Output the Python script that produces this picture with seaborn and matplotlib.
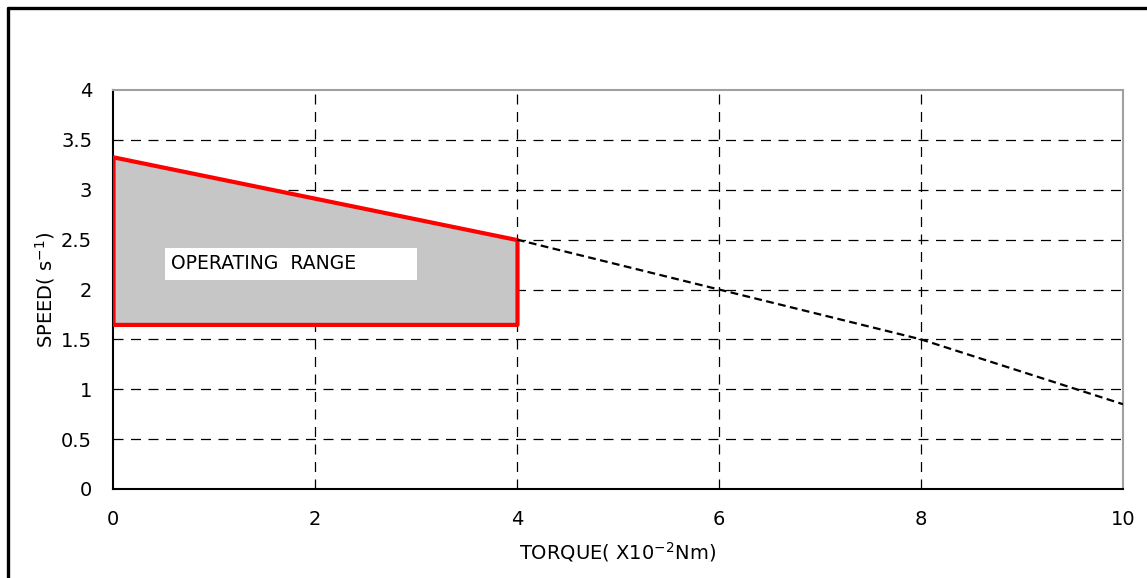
import numpy as np
import matplotlib
matplotlib.use('Agg')
import matplotlib.pyplot as plt
import seaborn as sns
from matplotlib.lines import Line2D
from matplotlib.patches import Rectangle
from matplotlib.ticker import FuncFormatter

# operating range (torque x10^-2 Nm, speed s^-1)
range_torque = [0, 4]
range_speed_top = [3.33, 2.5]
range_speed_bottom = 1.65

# extension of the speed-torque curve beyond the operating range
ext_torque = [4, 6, 8, 10]
ext_speed = [2.5, 2.0, 1.5, 0.85]

x_ticks = [0, 2, 4, 6, 8, 10]
y_ticks = [0, 0.5, 1, 1.5, 2, 2.5, 3, 3.5, 4]

sns.set_style('white')
plt.rcParams['font.family'] = ['DejaVu Sans']
plt.rcParams['text.color'] = 'black'
plt.rcParams['axes.labelcolor'] = 'black'

fig = plt.figure(figsize=(11.47, 5.78), dpi=100)
ax = fig.add_axes([113 / 1147, 89 / 578, 1010 / 1147, 399 / 578])

# grid
for xv in x_ticks[1:-1]:
    ax.axvline(xv, color='black', lw=0.9, dashes=(8, 6), zorder=1)
for yv in y_ticks[1:-1]:
    ax.axhline(yv, color='black', lw=0.9, dashes=(8, 6), zorder=1)

# operating range
ax.fill_between(range_torque, range_speed_bottom, range_speed_top,
                facecolor='#c6c6c6', edgecolor='#ff0000', linewidth=3, zorder=3)

sns.lineplot(x=ext_torque, y=ext_speed, ax=ax, color='black', lw=1.6,
             dashes=False, zorder=4).lines[-1].set_dashes((3.5, 2))

# label box
ax.add_patch(Rectangle((0.515, 2.1), 2.495, 0.32, facecolor='white',
                       edgecolor='none', zorder=5))
ax.text(0.57, 2.26, 'OPERATING  RANGE', fontsize=13.5, va='center', ha='left',
        color='black', zorder=6)

ax.set_xlim(0, 10)
ax.set_ylim(0, 4)
ax.set_xticks(x_ticks)
ax.set_yticks(y_ticks)
ax.xaxis.set_major_formatter(FuncFormatter(lambda v, p: f'{v:g}'))
ax.yaxis.set_major_formatter(FuncFormatter(lambda v, p: f'{v:g}'))
ax.tick_params(axis='both', length=0, labelsize=14, colors='black')
ax.tick_params(axis='y', pad=15)
ax.tick_params(axis='x', pad=15)

for s in ['left', 'bottom']:
    ax.spines[s].set_color('black')
    ax.spines[s].set_linewidth(1.5)
for s in ['top', 'right']:
    ax.spines[s].set_color('#a0a0a0')
    ax.spines[s].set_linewidth(1.5)

ax.set_xlabel('TORQUE( X10$^{-2}$Nm)', fontsize=14, labelpad=8, color='black')
ax.set_ylabel('SPEED( s$^{-1}$)', fontsize=14, labelpad=3, color='black')

# outer frame (left and top)
fig.add_artist(Line2D([8 / 1147, 8 / 1147], [0, 1 - 7.5 / 578], color='black', lw=2.4))
fig.add_artist(Line2D([8 / 1147, 1], [1 - 7.5 / 578, 1 - 7.5 / 578], color='black', lw=2.4))

fig.savefig('out.png', dpi=100)
